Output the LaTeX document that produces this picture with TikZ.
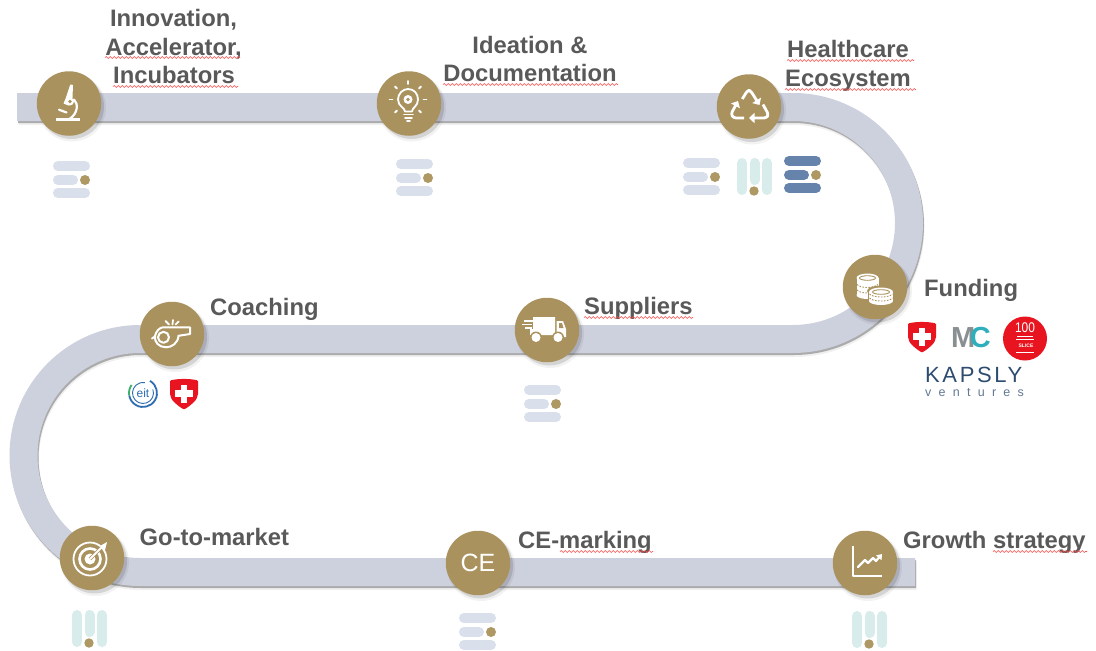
\documentclass[tikz,border=0pt]{standalone}
\usepackage{fontspec}
\setmainfont{Liberation Sans}
\usetikzlibrary{arrows.meta,decorations.pathmorphing,calc}
\definecolor{gold}{HTML}{AA925E}
\definecolor{dotgold}{HTML}{AE9863}
\definecolor{track}{HTML}{CDD0DD}
\definecolor{lab}{HTML}{595959}
\definecolor{lightbar}{HTML}{D9E0EC}
\definecolor{tealbar}{HTML}{D8ECEB}
\definecolor{darkbar}{HTML}{6583AB}
\definecolor{swissred}{HTML}{E8141F}
\definecolor{mcgray}{HTML}{8A8F92}
\definecolor{mcteal}{HTML}{2FAFBB}
\definecolor{kapblue}{HTML}{2E4C70}
\definecolor{eitblue}{HTML}{2F6DB0}
\definecolor{eitgreen}{HTML}{3FAE6A}
\tikzset{
  stopdisc/.style={circle,fill=gold,minimum size=64.5pt,inner sep=0pt,text=white,font=\fontsize{25}{25}\selectfont},
  lbl/.style={anchor=base west,inner sep=0pt,text=lab,font=\fontsize{23.8}{28}\selectfont\bfseries},
  lblc/.style={anchor=base,inner sep=0pt,text=lab,font=\fontsize{23.8}{28}\selectfont\bfseries},
  wavy/.style={draw=red!70!white,line width=0.6pt,decorate,decoration={snake,amplitude=0.9pt,segment length=4pt}},
  ico/.style={draw=white,line width=1.8pt,line cap=round,line join=round},
  recy/.style={draw=white,line width=2.8pt,line join=round,rounded corners=2.5pt,-{Triangle[length=5.5pt,width=10pt]}},
  barstyle/.style={line width=10pt,line cap=round},
}
\newcommand{\trackpath}{(17,107) -- (793,107) arc[start angle=-90,end angle=90,radius=116] -- (140,339) arc[start angle=-90,end angle=-270,radius=116.5] -- (915,572)}
\newcommand{\stopnode}[4]{%
  \fill[black,opacity=.05] (#3+3,#4+4) circle[radius=34];
  \fill[black,opacity=.12] (#3+2.5,#4+3) circle[radius=32.5];
  \node[stopdisc] (#1) at (#3,#4) {#2};}
\newcommand{\menuicon}[3]{%
  \draw[barstyle,#3] (#1+5,#2+5) -- (#1+32,#2+5);
  \draw[barstyle,#3] (#1+5,#2+19) -- (#1+20,#2+19);
  \draw[barstyle,#3] (#1+5,#2+32) -- (#1+32,#2+32);
  \fill[dotgold] (#1+32,#2+19) circle[radius=5];}
\newcommand{\pillicon}[2]{%
  \draw[barstyle,tealbar] (#1+5,#2+5) -- (#1+5,#2+32);
  \draw[barstyle,tealbar] (#1+17.5,#2+5) -- (#1+17.5,#2+22);
  \draw[barstyle,tealbar] (#1+30,#2+5) -- (#1+30,#2+32);
  \fill[dotgold] (#1+17,#2+33) circle[radius=4.7];}
\newcommand{\swiss}[2]{%
  \begin{scope}[shift={(#1,#2)}]
    \fill[swissred,rounded corners=1pt] (-14,-13.5) .. controls (-6,-15.5) and (6,-15.5) .. (14,-13.5) -- (14,-1) .. controls (14,6) and (6,12) .. (0,15.5) .. controls (-6,12) and (-14,6) .. (-14,-1) -- cycle;
    \fill[white] (-3.3,-9.5) rectangle (3.3,8.5);
    \fill[white] (-9.3,-3.8) rectangle (9.3,2.8);
  \end{scope}}
\begin{document}
\begin{tikzpicture}[x=1pt,y=-1pt]
\useasboundingbox (0,0) rectangle (1096,651);
\fill[white] (0,0) rectangle (1096,651);
% track
\begin{scope}[shift={(1.5,4)}]\draw[line width=28pt,black,opacity=.06] \trackpath;\end{scope}
\begin{scope}[shift={(1,2)}]\draw[line width=28pt,black!70,opacity=.42] \trackpath;\end{scope}
\draw[line width=28pt,track] \trackpath;
% stops
\stopnode{micro}{}{69}{103.5}
\stopnode{bulb}{}{409}{103.5}
\stopnode{recyc}{}{749}{106.5}
\stopnode{coins}{}{875}{287}
\stopnode{whistle}{}{172}{334}
\stopnode{truck}{}{547}{330}
\stopnode{target}{}{92}{558}
\stopnode{cemark}{CE}{478}{563}
\stopnode{growth}{}{865}{563}
% microscope
\begin{scope}[shift={(micro.center)}]
  \fill[white] (-13,14.8) rectangle (11,17.8);
  \fill[white] (1.3,-19) -- (4,-18.5) -- (3.5,-6) -- (-0.5,2) -- (-5.5,0) -- (-3,-6) -- cycle;
  \draw[ico,line width=2.2pt] (5,-4) .. controls (9.5,0) and (9,10) .. (0.5,15.5);
  \draw[ico,line width=2.2pt] (-10,6.2) -- (-2.5,9);
  \fill[white] (1,-2) circle[radius=4];
  \fill[gold] (1,-2) circle[radius=1.8];
\end{scope}
% bulb
\begin{scope}[shift={(bulb.center)}]
  \draw[ico] (-4,8) .. controls (-4,4) and (-11,3) .. (-11,-4) .. controls (-11,-10) and (-6,-14.5) .. (-1,-14.5) .. controls (5,-14.5) and (9,-10) .. (9,-4) .. controls (9,3) and (3,4) .. (3,8) -- cycle;
  \fill[white] (-1,-4) circle[radius=4.5];
  \fill[gold] (-1,-4) circle[radius=1.8];
  \draw[ico] (-5,11) -- (4,11);
  \draw[ico] (-4,14.5) -- (3,14.5);
  \draw[ico] (-2,17.5) -- (1,17.5);
  \foreach \a in {-90,-45,-135,0,180,45,135}
    \draw[ico] ($(-1,-4)+(\a:15.5)$) -- ($(-1,-4)+(\a:18.5)$);
\end{scope}
% recycling
\begin{scope}[shift={(recyc.center)}]
  \draw[recy] (-6.7,-7.5) -- (-1.5,-16) -- (1.5,-16) -- (10.5,-1.5);
  \draw[recy] (14,-2) -- (19.5,8) -- (17.5,11.5) -- (0,11.5);
  \draw[recy] (-5,11.5) -- (-15.5,11.5) -- (-18,7.5) -- (-11,-5.5);
\end{scope}
% coins
\begin{scope}[shift={(coins.center)}]
  \fill[white] (-18.5,-9) rectangle (3.5,8);
  \fill[white] (-7.5,8) ellipse[x radius=11,y radius=4];
  \fill[white] (-7.5,-9) ellipse[x radius=11,y radius=4.5];
  \foreach \yy in {-2.5,3}{
    \draw[gold,line width=.9pt,dash pattern=on 1.6pt off 1.4pt] (-18,\yy) .. controls (-14,\yy+4) and (-2,\yy+4) .. (3,\yy);}
  \draw[gold,line width=.9pt] (-7.5,-9) ellipse[x radius=8,y radius=2.3];
  \fill[gold] (-7,4) rectangle (20,15);
  \fill[gold] (6,16) ellipse[x radius=14,y radius=5];
  \fill[gold] (6,4) ellipse[x radius=14,y radius=5.5];
  \fill[white] (-6,5) rectangle (18,14);
  \fill[white] (6,14) ellipse[x radius=12,y radius=4];
  \fill[white] (6,5) ellipse[x radius=12,y radius=4.5];
  \foreach \yy in {7,11}{
    \draw[gold,line width=.9pt,dash pattern=on 1.6pt off 1.4pt] (-5.5,\yy) .. controls (-2,\yy+4) and (14,\yy+4) .. (17.5,\yy);}
  \draw[gold,line width=.9pt] (6,5) ellipse[x radius=8.5,y radius=2.3];
\end{scope}
% whistle
\begin{scope}[shift={(whistle.center)}]
  \draw[ico,line width=2pt] (-9,-6.7) -- (18,-6.7) -- (18,0) -- (6.5,1.8) .. controls (6,9) and (0,13.3) .. (-6,13.3) .. controls (-13,13.3) and (-18,8) .. (-17,2) .. controls (-16,-3) and (-12,-6.7) .. (-9,-6.7);
  \draw[ico,line width=2pt] (-8.5,3.3) circle[radius=5.5];
  \draw[ico,line width=2pt] (-17,2.5) -- (-20,4.5);
  \draw[ico] (-3,-9.5) -- (-6.5,-13);
  \draw[ico] (0.5,-9.5) -- (1,-14);
  \draw[ico] (3.5,-9.5) -- (6.7,-12.5);
\end{scope}
% truck
\begin{scope}[shift={(truck.center)}]
  \fill[white] (-14,-13) -- (8,-13) -- (8,5) -- (-17,5) -- (-17,-1) -- (-14,-1) -- cycle;
  \fill[white] (9.5,-9) -- (16,-9) -- (19,-1) -- (19,7) -- (9.5,7) -- cycle;
  \fill[gold] (12,-7) -- (15,-7) -- (16.5,-2) -- (12,-2) -- cycle;
  \draw[white,line width=1.3pt] (-23,-9) -- (-14,-9) (-25,-5.5) -- (-15,-5.5) (-22,-2) -- (-15,-2);
  \foreach \xx in {-11,11}{
    \fill[gold] (\xx,7.5) circle[radius=6];
    \fill[white] (\xx,7.5) circle[radius=4.5];}
\end{scope}
% target
\begin{scope}[shift={(target.center)}]
  \draw[ico] (-2,1) circle[radius=16.5];
  \draw[ico,line width=2.6pt] (-2,1) circle[radius=10.5];
  \fill[white] (-2,1) circle[radius=5.5];
  \draw[gold,line width=3.5pt] (-2,1) -- (10,-11);
  \draw[ico] (-2,1) -- (11,-12);
  \fill[white] (8,-12) -- (15,-16) -- (13,-8) -- (10,-9) -- cycle;
\end{scope}
% chart
\begin{scope}[shift={(growth.center)}]
  \draw[ico,line width=2pt,line cap=butt] (-12,-17) -- (-12,13) -- (17,13);
  \draw[ico,line width=2.2pt,-{Triangle[length=5pt,width=7pt]}] (-7,4) -- (0,-3) -- (3,0) -- (8,-5) -- (11,-2) -- (17,-9);
\end{scope}
% labels
\node[lblc] (t1a) at (173.5,26.5) {Innovation,};
\node[lblc] (t1b) at (173.5,55) {Accelerator,};
\node[lblc] (t1c) at (174,83.5) {Incubators};
\node[lblc] (t2a) at (530,53) {Ideation \&};
\node[lblc] (t2b) at (530,81.5) {Documentation};
\node[lblc] (t3a) at (848,57.5) {Healthcare};
\node[lblc] (t3b) at (848,86.5) {Ecosystem};
\node[lbl] (t4) at (924,296.5) {Funding};
\node[lbl] (t5) at (584,314.5) {Suppliers};
\node[lbl] (t6) at (210,315) {Coaching};
\node[lbl] (t7) at (139.5,545) {Go-to-market};
\node[lbl] (t8) at (518,548.5) {CE-marking};
\node[lbl] (t9) at (903,548) {Growth strategy};
% spell-check underlines
\draw[wavy] (105,57.5) -- (240,57.5);
\draw[wavy] (113,86.5) -- (238,86.5);
\draw[wavy] (443,84.5) -- (618,84.5);
\draw[wavy] (787,60.5) -- (914,60.5);
\draw[wavy] (785,89.5) -- (916,89.5);
\draw[wavy] (584,317.5) -- (693,317.5);
\draw[wavy] (560,551.5) -- (653,551.5);
\draw[wavy] (993,551.5) -- (1087,551.5);
% mini icons
\menuicon{53}{161}{lightbar}
\menuicon{396}{159}{lightbar}
\menuicon{683}{158}{lightbar}
\pillicon{737}{158}
\menuicon{784}{156}{darkbar}
\menuicon{524}{385}{lightbar}
\menuicon{459}{613}{lightbar}
\pillicon{72}{610}
\pillicon{852}{611}
% logos
\swiss{922}{337}
\swiss{184}{394}
\node[anchor=base west,inner sep=0pt,font=\fontsize{29}{29}\selectfont\bfseries] (mc) at (951,347) {\textcolor{mcgray}{M}\kern-5.5pt\textcolor{mcteal}{C}};
\fill[swissred] (1025,338.5) circle[radius=22];
\node[inner sep=0pt,text=white,font=\fontsize{14}{14}\selectfont] (h100) at (1025,327.5) {\scalebox{.85}[1]{100}};
\draw[white,line width=.7pt] (1017,336) -- (1033,336) (1016,339) -- (1034,339);
\node[inner sep=0pt,text=white,font=\fontsize{5}{5}\selectfont\bfseries] (slice) at (1026,346) {SLICE};
\draw[white,line width=.4pt] (1016,352.5) -- (1034,352.5);
\node[anchor=base west,inner sep=0pt,text=kapblue,font=\fontsize{22}{22}\selectfont\addfontfeature{LetterSpace=12}] (kap) at (925,382.5) {KAPSLY};
\node[anchor=base west,inner sep=0pt,text=kapblue!75!white,font=\fontsize{12.5}{12.5}\selectfont\addfontfeature{LetterSpace=58}] (ven) at (925,396) {ventures};
\draw[eitblue,line width=1.8pt] (143,393) ++(-60:14) arc[start angle=-60,end angle=170,radius=14];
\draw[eitgreen,line width=1.8pt] (143,393) ++(170:14) arc[start angle=170,end angle=215,radius=14];
\draw[eitblue,line width=.9pt] (143,393) ++(-20:10.5) arc[start angle=-20,end angle=280,radius=10.5];
\node[inner sep=0pt,text=eitblue,font=\fontsize{12}{12}\selectfont] (eit) at (143,393) {eit};
\end{tikzpicture}
\end{document}
